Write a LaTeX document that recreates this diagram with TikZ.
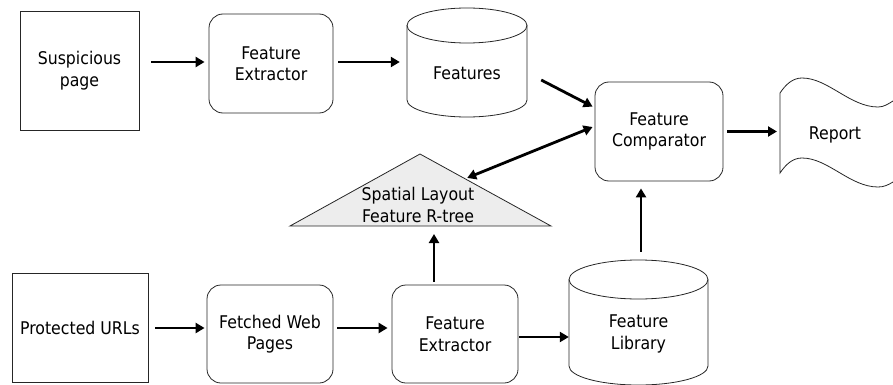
\documentclass[tikz,border=0pt]{standalone}
\usepackage{fontspec}
\setmainfont{DejaVu Sans Condensed}
\usetikzlibrary{arrows.meta,calc}
\begin{document}
\begin{tikzpicture}[x=1pt,y=-1pt,
  every node/.style={font=\fontsize{17.5}{21.5}\selectfont, align=center, inner sep=0pt},
  shp/.style={draw=black!85, line width=0.8pt},
  sbox/.style={shp, rectangle},
  rbox/.style={shp, rectangle, rounded corners=14pt},
  ghost/.style={rectangle, draw=none},
  arr/.style={line width=2.8pt, -{Triangle[length=9pt,width=10pt]}},
  darr/.style={line width=2.8pt, {Triangle[length=9pt,width=10pt]}-{Triangle[length=9pt,width=10pt]}}]
\useasboundingbox (0,0) rectangle (893,385);

% top row
\node[sbox, minimum width=119pt, minimum height=119pt] (susp) at (79.5,70.5) {Suspicious\\page};
\node[rbox, minimum width=124pt, minimum height=99pt] (fe1) at (271,63.5) {Feature\\Extractor};

% Features cylinder
\node[ghost, minimum width=120pt, minimum height=109pt] (featbox) at (467,62.5) {};
\draw[shp] (407,25.5) -- (407,100) arc[start angle=180, end angle=360, x radius=60pt, y radius=17pt] -- (527,25.5);
\draw[shp] (467,25.5) ellipse [x radius=60pt, y radius=17.5pt];
\node (feat) at (467,73) {Features};

\node[rbox, minimum width=128pt, minimum height=99pt] (comp) at (659,131.5) {Feature\\Comparator};

% Report
\coordinate (repW) at (780,131.5);
\draw[shp] (893,101) .. controls (888,104) and (884,107) .. (878,107) .. controls (850,107) and (828,78) .. (802,78) .. controls (793,78) and (786,84) .. (780,93) -- (780,173) .. controls (786,164) and (793,158) .. (802,158) .. controls (828,158) and (850,187) .. (878,187) .. controls (884,187) and (888,185) .. (893,182);
\node (rep) at (835,135) {Report};

% Triangle
\coordinate (triTop) at (420,154);
\coordinate (triR) at (551,226);
\coordinate (triL) at (290,226);
\draw[shp, fill=black!7] (triTop) -- (triR) -- (triL) -- cycle;
\node (tri) at (418,205) {Spatial Layout\\Feature R-tree};

% bottom row
\node[sbox, minimum width=136pt, minimum height=109pt] (urls) at (80,327.5) {Protected URLs};
\node[rbox, minimum width=126pt, minimum height=98pt] (fetch) at (270,334) {Fetched Web\\Pages};
\node[rbox, minimum width=126pt, minimum height=98pt] (fe2) at (455,334) {Feature\\Extractor};

% Feature Library cylinder
\node[ghost, minimum width=139pt, minimum height=125pt] (libbox) at (638.5,322.5) {};
\draw[shp] (569,279.5) -- (569,366) arc[start angle=180, end angle=360, x radius=69.5pt, y radius=19pt] -- (708,279.5);
\draw[shp] (638.5,279.5) ellipse [x radius=69.5pt, y radius=19.5pt];
\node (lib) at (638.5,334) {Feature\\Library};

% connectors
\draw[arr] ($(susp.east |- fe1.west)+(12,-1.5)$) -- ($(fe1.west)+(-4,-1.5)$);
\draw[arr] ($(fe1.east)+(5,-1.5)$) -- ($(featbox.west |- fe1.east)+(-7,-1.5)$);
\draw[arr] ($(featbox.east)+(14,17.5)$) -- ($(comp.north west)+(-2,25)$);
\draw[darr] ($(comp.west)+(-2,-4.5)$) -- ($(triTop)!0.36!(triR)+(0,-2)$);
\draw[arr] ($(comp.east)+(4,0)$) -- ($(repW)+(-3,0)$);
\draw[arr] ($(urls.east)+(7,0.5)$) -- ($(fetch.west |- urls.east)+(-2,0.5)$);
\draw[arr] ($(fetch.east |- urls.east)+(4,0.5)$) -- ($(fe2.west |- urls.east)+(-4,0.5)$);
\draw[arr] ($(fe2.east)+(1,3)$) -- ($(fe2.east -| libbox.west)+(0,3)$);
\draw[arr] ($(fe2.north)+(-21,-3)$) -- ($(fe2.north |- triL)+(-21,8)$);
\draw[arr] ($(libbox.north)+(2.5,-8)$) -- ($(comp.south -| libbox.north)+(2.5,7)$);
\end{tikzpicture}
\end{document}
